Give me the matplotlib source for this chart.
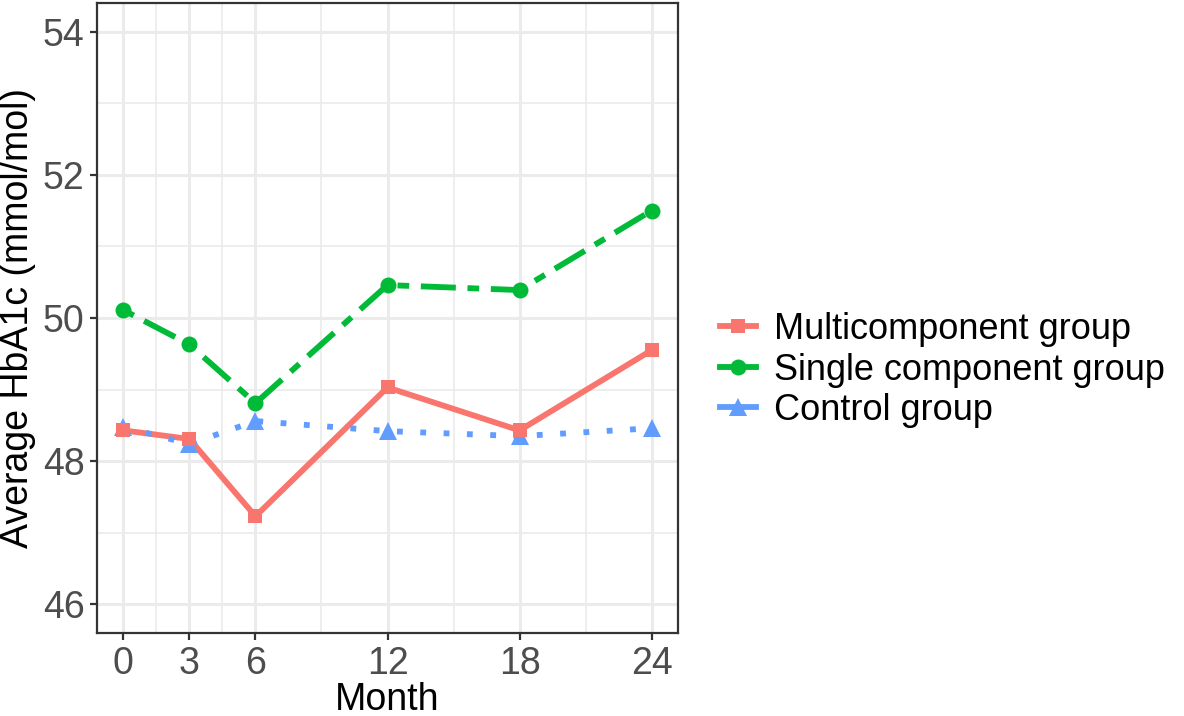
import matplotlib
matplotlib.use("Agg")
import matplotlib.pyplot as plt

plt.rcParams["font.family"] = ["Liberation Sans", "DejaVu Sans"]

# Data
months = [0, 3, 6, 12, 18, 24]
multi = [48.43, 48.31, 47.23, 49.03, 48.43, 49.55]
single = [50.11, 49.63, 48.81, 50.46, 50.39, 51.50]
control = [48.48, 48.24, 48.56, 48.42, 48.35, 48.46]
group_names = ["Multicomponent group", "Single component group", "Control group"]

x_ticks = [0, 3, 6, 12, 18, 24]
x_minor = [1.5, 4.5, 9, 15, 21]
y_ticks = [46, 48, 50, 52, 54]
y_minor = [47, 49, 51, 53]

colors = ["#F8766D", "#00BA38", "#619CFF"]
styles = ["-", (0, (2, 2, 6, 2)), (0, (1, 3))]
markers = ["s", "o", "^"]
msizes = [10.5, 11.5, 12.5]

fig = plt.figure(figsize=(11.84, 7.16), dpi=100)
ax = fig.add_axes([97 / 1184, 1 - 633 / 716, 581 / 1184, 630 / 716])

series = [multi, single, control]

# lines first, then points (like ggplot layers)
handles = []
for i, vals in enumerate(series):
    ax.plot(months, vals, color=colors[i], linestyle=styles[i], linewidth=4.2,
            dash_capstyle="butt", solid_capstyle="butt", zorder=2)
for i in [2, 1, 0]:
    ax.plot(months, series[i], color=colors[i], linestyle="none",
            marker=markers[i], markersize=msizes[i], markeredgewidth=0, zorder=3)
for i in range(3):
    h, = ax.plot([], [], color=colors[i], linestyle="-", linewidth=4.2,
                 marker=markers[i], markersize=msizes[i], markeredgewidth=0,
                 label=group_names[i])
    handles.append(h)

ax.set_xlim(-1.2, 25.2)
ax.set_ylim(45.6, 54.4)
ax.set_xticks(x_ticks)
ax.set_xticks(x_minor, minor=True)
ax.set_yticks(y_ticks)
ax.set_yticks(y_minor, minor=True)

ax.grid(which="major", color="#EBEBEB", linewidth=2.2, zorder=0)
ax.grid(which="minor", color="#EBEBEB", linewidth=1.2, zorder=0)
ax.set_axisbelow(True)

ax.tick_params(axis="both", which="major", labelsize=27, labelcolor="#4D4D4D",
               color="#333333", length=5, width=1.6, pad=4)
ax.tick_params(axis="both", which="minor", length=0)
for sp in ax.spines.values():
    sp.set_color("#333333")
    sp.set_linewidth(1.6)

ax.set_xlabel("Month", fontsize=27, labelpad=0)
ax.set_ylabel("Average HbA1c (mmol/mol)", fontsize=27, labelpad=5)

fig.legend(handles=handles, loc="center left", bbox_to_anchor=(720 / 1184, 1 - 370 / 716),
           frameon=False, fontsize=26, handlelength=1.0, handletextpad=0.5,
           labelspacing=0.15, borderpad=0, borderaxespad=0)

fig.savefig("out.png", dpi=100)
